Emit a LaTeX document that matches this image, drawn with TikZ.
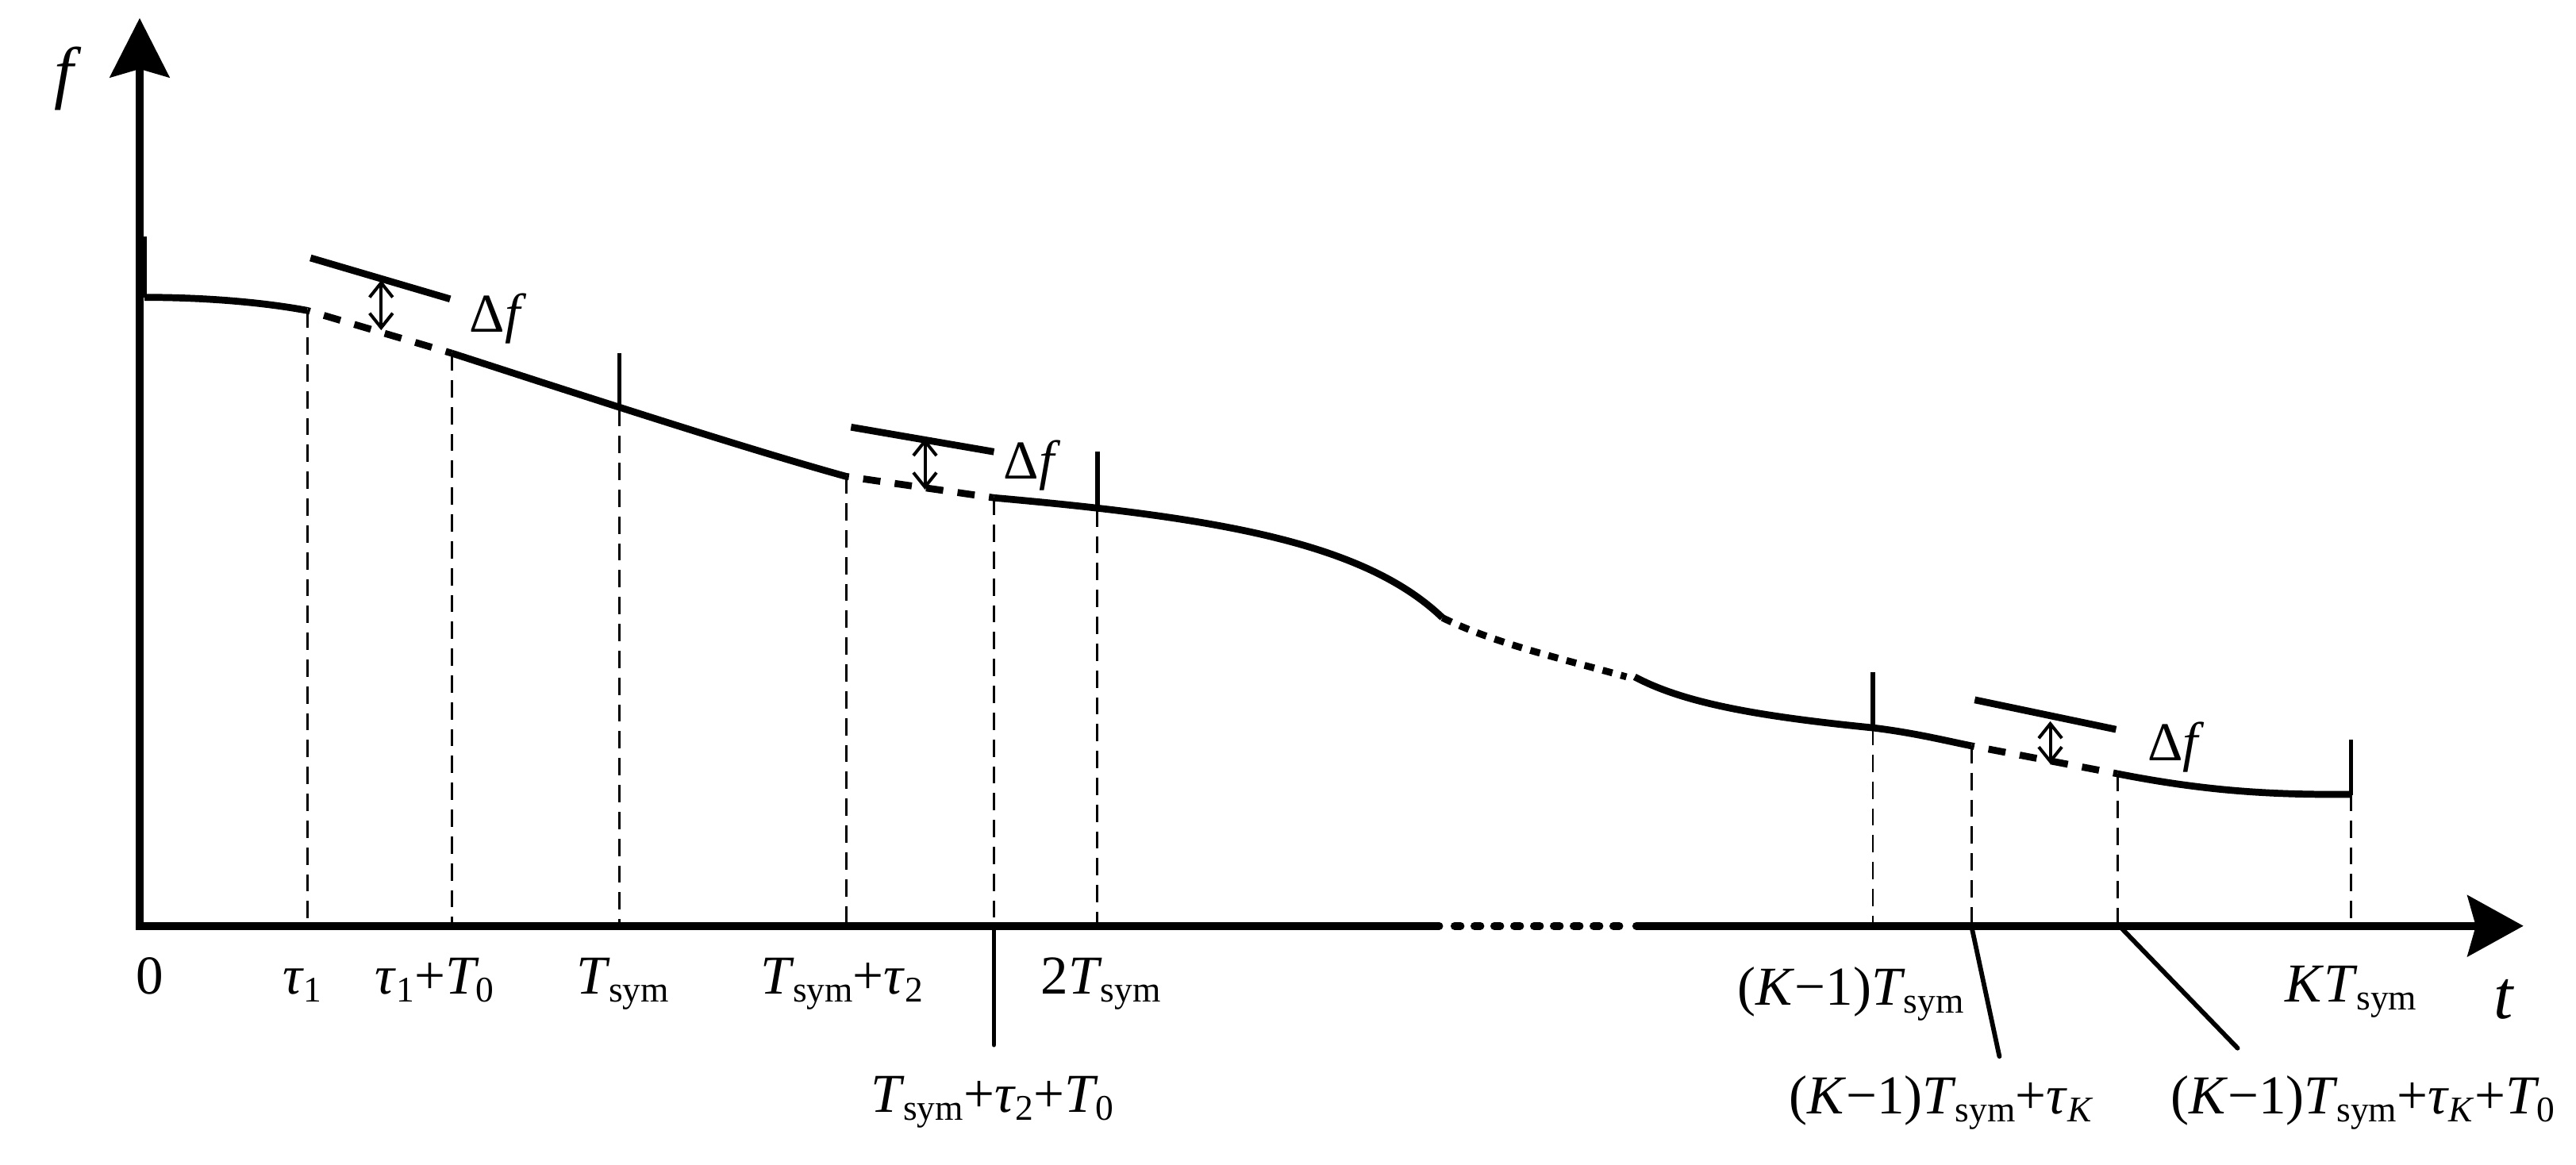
\documentclass[tikz,border=0pt]{standalone}
\usepackage{fontspec}
\setmainfont{Liberation Serif}
\usetikzlibrary{arrows.meta}
\newcommand{\SB}[1]{\raisebox{-2.7pt}{\fontsize{12.5}{12.5}\selectfont #1}}
\newcommand{\Tsym}{\textit{T}\kern-0.5pt\SB{sym}}
\newcommand{\Tz}{\textit{T}\kern-1pt\SB{0}}
\newcommand{\tauS}[1]{\textit{τ}\SB{#1}}
\newcommand{\Km}{(\textit{K}−1)}
\begin{document}
\begin{tikzpicture}[x=0.02cm,y=-0.02cm,
  axis/.style={line width=2.75pt},
  curve/.style={line width=2.4pt},
  cdash/.style={curve, dash pattern=on 6pt off 5pt, dash phase=5pt},
  cdot/.style={curve, dash pattern=on 3.5pt off 3pt},
  vdash/.style={line width=0.8pt, dash pattern=on 6pt off 3.3pt},
  tickline/.style={line width=1.6pt},
  leader/.style={line width=1.6pt, line cap=round},
  darr/.style={line width=1.1pt, {Straight Barb[length=5pt,width=8pt]}-{Straight Barb[length=5pt,width=8pt]}},
  lbl/.style={inner sep=0pt, anchor=base, font=\fontsize{19}{22}\selectfont},
  biglbl/.style={inner sep=0pt, font=\fontsize{24}{28}\selectfont\itshape},
  ]
\useasboundingbox (0,0) rectangle (1568,709);

% axes
\coordinate (O) at (85,563.6);
\coordinate (ytip) at (85,11);
\coordinate (xtip) at (1536,563.6);
\coordinate (gapL) at (876,563.6);
\coordinate (gapR) at (996,563.6);
\draw[axis, line cap=round, line join=miter, {Stealth[length=0.72cm,width=0.72cm,inset=0.1cm]}-] (ytip) -- (O) -- (gapL);
\foreach \i in {0,...,8} \draw[axis, line cap=round] ({885.4+\i*12.08},563.6) -- ++(3.6,0);
\draw[axis, line cap=round, -{Stealth[length=0.68cm,width=0.74cm,inset=0.1cm]}] (gapR) -- (xtip);

% curve
\draw[tickline] (88,144) -- (88,181);
\draw[curve] (88,181) .. controls (125,181) and (160,184) .. (187,189);
\draw[cdash] (187,189) -- (275,215);
\draw[curve] (275,215) .. controls (340,236) and (450,272) .. (515,290);
\draw[cdash] (515,290) -- (605,303);
\draw[curve] (605,303) .. controls (740,315) and (830,330) .. (878,376);
\draw[cdot] (878,376) .. controls (910,392) and (955,402) .. (990,412);
\draw[curve] (995,412) .. controls (1025,428) and (1070,436) .. (1140,443) .. controls (1165,446) and (1185,451) .. (1200,454);
\draw[cdash] (1200,454) -- (1289,471);
\draw[curve] (1289,471) .. controls (1340,481) and (1380,484) .. (1431,483.5);
\draw[tickline] (1431,484) -- (1431,450);

% ticks on curve
\draw[tickline] (377,215) -- (377,249);
\draw[tickline] (668,275) -- (668,310);
\draw[tickline] (1140,409) -- (1140,443);

% dashed verticals
\foreach \x/\y in {187/189, 275/215, 377/249, 515/290, 605/303, 668/310, 1140/443, 1200/454, 1289/471, 1431/483}
  \draw[vdash] (\x,\y) -- (\x,563.6);

% leaders
\coordinate (ld1a) at (605,563.6); \coordinate (ld1b) at (605,636);
\coordinate (ld2a) at (1200,563.6); \coordinate (ld2b) at (1217,643);
\coordinate (ld3a) at (1290,563.6); \coordinate (ld3b) at (1362,638);
\draw[leader] (ld1a) -- (ld1b);
\draw[leader] (ld2a) -- (ld2b);
\draw[leader] (ld3a) -- (ld3b);

% delta f
\draw[curve] (189,157) -- (274,182);
\draw[curve] (518,260) -- (605,275);
\draw[curve] (1202,426) -- (1288,444);
\draw[darr] (232,170.6) -- (232,201);
\draw[darr] (563,267) -- (563,298);
\draw[darr] (1248,439) -- (1248,465);
\node[lbl, anchor=base west] (df1) at (285.5,202) {Δ\textit{f}};
\node[lbl, anchor=base west] (df2) at (610.6,291.5) {Δ\textit{f}};
\node[lbl, anchor=base west] (df3) at (1307,463) {Δ\textit{f}};

% labels
\node[lbl] (l0) at (91,605) {0};
\node[lbl] (ltau1) at (184,605) {\tauS{1}};
\node[lbl] (ltauT) at (264.5,605) {\tauS{1}+\Tz};
\node[lbl] (lTs) at (379,605) {\Tsym};
\node[lbl] (lTst) at (512.5,605) {\Tsym+\tauS{2}};
\node[lbl] (l2Ts) at (670,605) {2\Tsym};
\node[lbl] (lTstT) at (604,677) {\Tsym+\tauS{2}+\Tz};
\node[lbl] (lK1) at (1126.5,612) {\Km\Tsym};
\node[lbl] (lK1t) at (1181.5,678) {\Km\Tsym+\tauS{\textit{K}}};
\node[lbl] (lK1tT) at (1438,678) {\Km\Tsym+\tauS{\textit{K}}+\Tz};
\node[lbl] (lKT) at (1431,610) {\textit{K}\Tsym};
\node[biglbl, anchor=base] (lt) at (1524,620) {t};
\node[biglbl] (lf) at (39,48) {f};
\end{tikzpicture}
\end{document}
